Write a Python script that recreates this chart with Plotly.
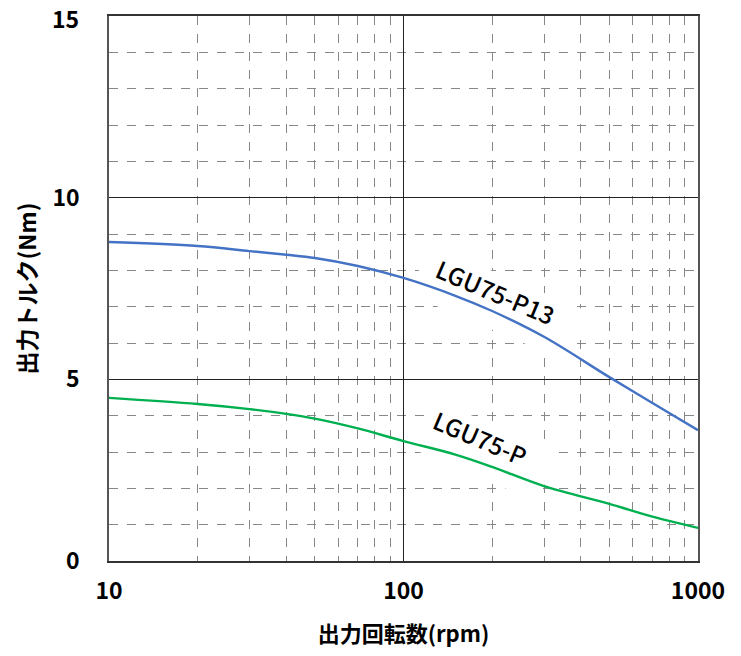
import math
import plotly.graph_objects as go

rpm = [10, 20, 30, 40, 50, 70, 100, 150, 200, 300, 500, 700, 1000]
torque_p13 = [8.78, 8.67, 8.53, 8.43, 8.34, 8.12, 7.79, 7.30, 6.88, 6.17, 5.06, 4.35, 3.60]
torque_p = [4.49, 4.32, 4.18, 4.05, 3.92, 3.65, 3.30, 2.93, 2.59, 2.06, 1.57, 1.22, 0.91]

y_ticks = [0, 5, 10, 15]

labels = ["LGU75-P13", "LGU75-P"]
label_x = [206, 183]
label_y = [7.43, 3.39]

font = "Noto Sans CJK JP"

fig = go.Figure()
fig.add_trace(go.Scatter(x=rpm, y=torque_p13, mode="lines", line=dict(color="#4472C4", width=2.4, shape="spline"), showlegend=False))
fig.add_trace(go.Scatter(x=rpm, y=torque_p, mode="lines", line=dict(color="#00B050", width=2.4, shape="spline"), showlegend=False))

box_paths = [
    "M -66.0 46.6 L 94.2 -21.4 L 73.0 -71.2 L -87.2 -3.2 Z",
    "M -49.4 39.6 L 77.6 -14.4 L 56.4 -64.2 L -70.6 -10.2 Z",
]
for lx, ly, txt, pth in zip(label_x, label_y, labels, box_paths):
    fig.add_shape(type="path", xref="x", yref="y", xsizemode="pixel", ysizemode="pixel",
                  xanchor=lx, yanchor=ly, path=pth, fillcolor="white", line=dict(width=0),
                  layer="between")
    fig.add_annotation(x=math.log10(lx), y=ly, xref="x", yref="y", text=txt, textangle=23,
                       showarrow=False, font=dict(family=font, size=24, color="black", weight=500))

# top tick label (the axis drops it at the paper edge)
fig.add_annotation(x=0, y=y_ticks[-1], xref="paper", yref="y", text=str(y_ticks[-1]),
                   xanchor="right", yanchor="middle", xshift=-28, yshift=-2, showarrow=False,
                   font=dict(family=font, size=23, color="black", weight="bold"))

fig.update_layout(
    width=725, height=640,
    margin=dict(l=101, r=35, t=8, b=87),
    paper_bgcolor="white", plot_bgcolor="white",
    font=dict(family=font, color="black"),
)
fig.update_xaxes(
    type="log", range=[1, 3], dtick=1, tickformat="d",
    tickfont=dict(size=23, family=font, weight="bold"), showgrid=True, gridcolor="#222", gridwidth=1,
    minor=dict(showgrid=True, dtick="D1", gridcolor="#888", griddash="dash", gridwidth=1, ticks=""),
    showline=True, linecolor="#333", linewidth=1.5, mirror=True, ticks="", ticklabelstandoff=9,
    title=dict(text="出力回転数(rpm)", font=dict(size=22, family=font, weight="bold"), standoff=21),
    zeroline=False, automargin=False,
)
fig.update_yaxes(
    range=[0, 15], tickvals=y_ticks,
    tickfont=dict(size=23, family=font, weight="bold"), showgrid=True, gridcolor="#222", gridwidth=1,
    minor=dict(showgrid=True, dtick=1, gridcolor="#888", griddash="dash", gridwidth=1, ticks=""),
    showline=True, linecolor="#555", linewidth=1.5, mirror=True, ticks="", ticklabelstandoff=23,
    title=dict(text="出力トルク(Nm)", font=dict(size=23, family=font, weight="bold"), standoff=9),
    zeroline=False, automargin=False,
)

fig.write_html("out.html")
